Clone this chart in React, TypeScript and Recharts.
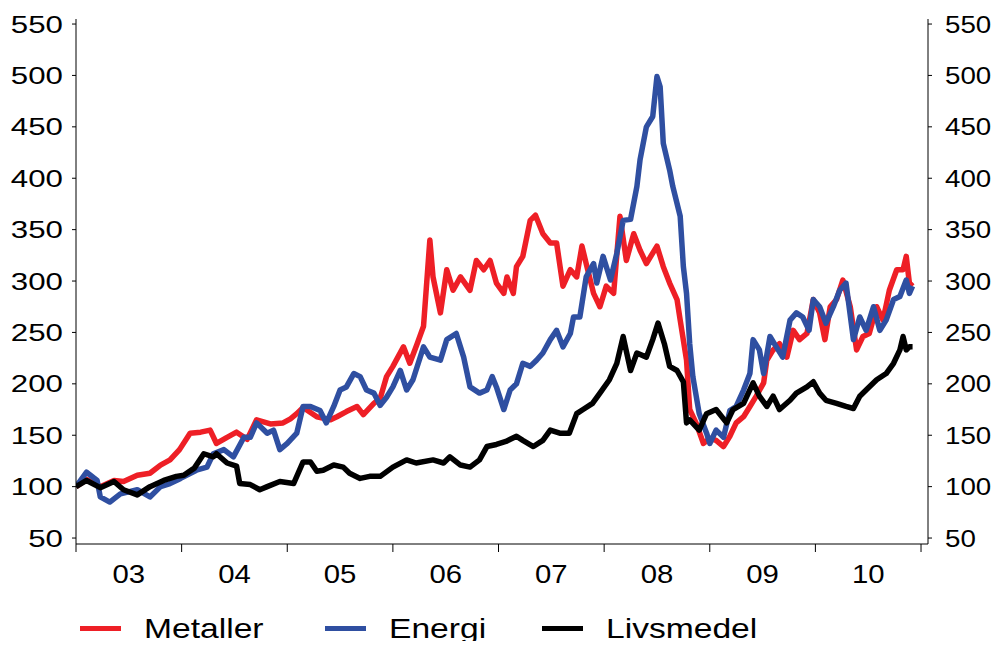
import React from "react";
import { LineChart, Line, XAxis, YAxis, Legend } from "recharts";

// ---- Data (decimal year, index value 2003 = 100) ----
const metallerDates = [
  2003.0, 2003.1, 2003.23, 2003.36, 2003.45, 2003.58, 2003.7, 2003.8, 2003.89, 2003.98,
  2004.08, 2004.18, 2004.27, 2004.33, 2004.43, 2004.52, 2004.62, 2004.71, 2004.84, 2004.96,
  2005.03, 2005.09, 2005.15, 2005.28, 2005.41, 2005.47, 2005.56, 2005.66, 2005.72, 2005.82,
  2005.88, 2005.94, 2006.0, 2006.1, 2006.16, 2006.23, 2006.29, 2006.35, 2006.38, 2006.45,
  2006.51, 2006.57, 2006.64, 2006.73, 2006.79, 2006.86, 2006.92, 2006.98, 2007.05, 2007.08,
  2007.14, 2007.17, 2007.23, 2007.3, 2007.35, 2007.42, 2007.49, 2007.55, 2007.61, 2007.68,
  2007.74, 2007.79, 2007.83, 2007.9, 2007.96, 2008.02, 2008.09, 2008.15, 2008.21, 2008.28,
  2008.34, 2008.4, 2008.5, 2008.56, 2008.62, 2008.69, 2008.72, 2008.78, 2008.81, 2008.87,
  2008.94, 2009.0, 2009.06, 2009.13, 2009.19, 2009.25, 2009.32, 2009.38, 2009.44, 2009.51,
  2009.54, 2009.6, 2009.66, 2009.73, 2009.79, 2009.85, 2009.92, 2009.98, 2010.04, 2010.09,
  2010.14, 2010.2, 2010.26, 2010.33, 2010.39, 2010.45, 2010.51, 2010.58, 2010.64, 2010.7,
  2010.77, 2010.83, 2010.86, 2010.89, 2010.92,
];
const metallerValues = [
  100, 107, 100, 106, 105, 111, 113, 121, 126, 136,
  152, 153, 155, 142, 148, 153, 146, 165, 161, 162,
  166, 171, 177, 168, 165, 168, 173, 178, 170, 181,
  186, 207, 217, 236, 220, 239, 256, 340, 304, 269,
  311, 291, 304, 291, 320, 311, 320, 298, 288, 304,
  288, 314, 324, 359, 364, 346, 337, 337, 295, 311,
  304, 334, 317, 288, 275, 295, 288, 363, 320, 346,
  330, 317, 334, 314, 298, 282, 262, 223, 175, 162,
  142, 147, 145, 139, 149, 162, 168, 178, 188, 201,
  223, 233, 239, 226, 252, 243, 249, 282, 269, 243,
  275, 282, 301, 275, 233, 246, 249, 275, 262, 291,
  311, 311, 324, 298, 295,
];

const energiDates = [
  2003.0, 2003.1, 2003.2, 2003.23, 2003.32, 2003.42, 2003.58, 2003.7, 2003.8, 2003.89,
  2003.99, 2004.14, 2004.24, 2004.3, 2004.4, 2004.49, 2004.59, 2004.65, 2004.71, 2004.81,
  2004.87, 2004.93, 2005.0, 2005.09, 2005.15, 2005.22, 2005.31, 2005.37, 2005.44, 2005.5,
  2005.56, 2005.63, 2005.69, 2005.75, 2005.82, 2005.88, 2005.94, 2006.0, 2006.07, 2006.13,
  2006.19, 2006.29, 2006.35, 2006.45, 2006.51, 2006.6, 2006.67, 2006.73, 2006.82, 2006.89,
  2006.94, 2006.98, 2007.05, 2007.11, 2007.17, 2007.23, 2007.3, 2007.36, 2007.42, 2007.49,
  2007.55, 2007.61, 2007.68, 2007.71, 2007.77, 2007.83, 2007.9, 2007.93, 2007.99, 2008.06,
  2008.12, 2008.18, 2008.25, 2008.31, 2008.34, 2008.4, 2008.46, 2008.5, 2008.53, 2008.56,
  2008.62, 2008.65, 2008.72, 2008.75, 2008.78, 2008.81, 2008.84, 2008.9, 2008.97, 2009.0,
  2009.06, 2009.13, 2009.19, 2009.25, 2009.32, 2009.38, 2009.41, 2009.47, 2009.51, 2009.57,
  2009.63, 2009.69, 2009.76, 2009.82, 2009.88, 2009.94, 2009.98, 2010.04, 2010.1, 2010.17,
  2010.23, 2010.29, 2010.36, 2010.42, 2010.48, 2010.55, 2010.61, 2010.67, 2010.74, 2010.8,
  2010.86, 2010.89, 2010.92,
];
const energiValues = [
  100, 114, 106, 90, 85, 93, 97, 90, 100, 103,
  108, 116, 119, 132, 136, 129, 148, 148, 162, 152,
  155, 136, 142, 152, 178, 178, 174, 162, 178, 194,
  197, 210, 207, 194, 191, 179, 187, 197, 213, 194,
  204, 236, 226, 223, 243, 249, 226, 197, 191, 194,
  207, 197, 175, 194, 200, 220, 217, 223, 230, 243,
  252, 236, 249, 265, 265, 304, 317, 298, 324, 301,
  327, 359, 360, 392, 418, 450, 460, 499, 489, 434,
  408, 392, 363, 314, 288, 239, 207, 171, 152, 142,
  155, 148, 174, 178, 194, 210, 243, 233, 210, 246,
  236, 226, 262, 269, 265, 252, 282, 275, 259, 275,
  291, 298, 243, 265, 252, 275, 252, 262, 282, 285,
  301, 288, 295,
];

const livsmedelDates = [
  2003.0, 2003.1, 2003.23, 2003.36, 2003.45, 2003.58, 2003.7, 2003.83, 2003.95, 2004.02,
  2004.12, 2004.21, 2004.3, 2004.33, 2004.43, 2004.52, 2004.55, 2004.65, 2004.74, 2004.81,
  2004.93, 2005.06, 2005.15, 2005.22, 2005.28, 2005.34, 2005.44, 2005.53, 2005.59, 2005.69,
  2005.78, 2005.88, 2006.0, 2006.13, 2006.22, 2006.38, 2006.48, 2006.54, 2006.64, 2006.73,
  2006.82, 2006.89, 2006.98, 2007.07, 2007.17, 2007.23, 2007.33, 2007.42, 2007.49, 2007.58,
  2007.67, 2007.74, 2007.8, 2007.89, 2007.96, 2008.05, 2008.12, 2008.18, 2008.25, 2008.31,
  2008.4, 2008.46, 2008.51, 2008.57, 2008.62, 2008.69, 2008.75, 2008.78, 2008.81, 2008.9,
  2008.97, 2009.06, 2009.16, 2009.22, 2009.32, 2009.41, 2009.47, 2009.54, 2009.6, 2009.66,
  2009.76, 2009.82, 2009.92, 2009.98, 2010.04, 2010.1, 2010.2, 2010.29, 2010.36, 2010.42,
  2010.48, 2010.58, 2010.67, 2010.74, 2010.8, 2010.83, 2010.86, 2010.89, 2010.92,
];
const livsmedelValues = [
  100, 106, 99, 105, 97, 92, 100, 106, 110, 111,
  118, 132, 129, 132, 123, 120, 103, 102, 97, 100,
  105, 103, 124, 124, 115, 116, 121, 119, 113, 108,
  110, 110, 119, 126, 123, 126, 123, 129, 121, 119,
  126, 139, 141, 144, 149, 145, 139, 145, 155, 152,
  152, 171, 175, 181, 191, 204, 220, 246, 213, 230,
  226, 243, 259, 239, 217, 213, 202, 162, 165, 155,
  171, 175, 162, 175, 181, 201, 188, 178, 188, 175,
  184, 191, 197, 202, 191, 184, 181, 178, 176, 188,
  194, 204, 210, 220, 233, 246, 233, 236, 236,
];

const seriesNames = ["Metaller", "Energi", "Livsmedel"];
const seriesColors = ["#EE1F26", "#2F4FA1", "#000000"];

const yTicks = [50, 100, 150, 200, 250, 300, 350, 400, 450, 500, 550];
const yearBoundaries = [2003, 2004, 2005, 2006, 2007, 2008, 2009, 2010, 2011];
const yearMidpoints = [2003.5, 2004.5, 2005.5, 2006.5, 2007.5, 2008.5, 2009.5, 2010.5];
const yearLabels = ["03", "04", "05", "06", "07", "08", "09", "10"];

const xTicks = [...yearBoundaries, ...yearMidpoints].sort((a, b) => a - b);

const X_DOMAIN: [number, number] = [2003, 2011.066];
const Y_DOMAIN: [number, number] = [44.2, 554.9];

const FONT = '"Liberation Sans", Arial, Helvetica, sans-serif';

const toPoints = (dates: number[], values: number[]) =>
  dates.map((t, i) => ({ t, v: values[i] }));

const seriesData = [
  toPoints(metallerDates, metallerValues),
  toPoints(energiDates, energiValues),
  toPoints(livsmedelDates, livsmedelValues),
];

const YTick = (props: any) => {
  const { x, y, payload, anchor, sx } = props;
  return (
    <g transform={`translate(${x},${y}) scale(${sx},1)`}>
      <text x={0} y={0} dy="0.36em" textAnchor={anchor} fontSize={23.5} fontFamily={FONT} fill="#000">
        {payload.value}
      </text>
    </g>
  );
};

// Year boundaries get a tick mark, mid-year positions get the year label.
const XTick = (props: any) => {
  const { x, y, payload } = props;
  const labelIndex = yearMidpoints.indexOf(payload.value);
  if (labelIndex < 0) {
    return <line x1={x} y1={y} x2={x} y2={y + 8} stroke="#000" strokeWidth={1} />;
  }
  return (
    <g transform={`translate(${x},${y + 39}) scale(1.15,1)`}>
      <text x={0} y={0} textAnchor="middle" fontSize={25.5} fontFamily={FONT} fill="#000">
        {yearLabels[labelIndex]}
      </text>
    </g>
  );
};

const legendOffsets = [72, 317, 534];

const LegendContent = () => (
  <div style={{ position: "relative", height: 30, width: "100%" }}>
    {seriesNames.map((name, i) => (
      <div
        key={name}
        style={{
          position: "absolute",
          left: legendOffsets[i],
          top: -6,
          height: 30,
          display: "flex",
          alignItems: "center",
          whiteSpace: "nowrap",
        }}
      >
        <span style={{ display: "inline-block", width: 41, height: 5, background: seriesColors[i] }} />
        <span
          style={{
            display: "inline-block",
            position: "relative",
            top: 1,
            height: 24,
            marginLeft: 23,
            fontFamily: FONT,
            fontSize: 28,
            lineHeight: "24px",
            color: "#000",
            transform: "scaleX(1.2)",
            transformOrigin: "left center",
          }}
        >
          {name}
        </span>
      </div>
    ))}
  </div>
);

export default function App() {
  return (
    <div style={{ height: 641, marginBottom: -8 }}>
      <LineChart width={983} height={641} margin={{ top: 11, right: 0, bottom: 0, left: 0 }}>
        <XAxis
          xAxisId="t"
          dataKey="t"
          type="number"
          domain={X_DOMAIN}
          ticks={xTicks}
          allowDataOverflow
          height={75}
          interval={0}
          tickSize={0}
          tickMargin={0}
          tickLine={false}
          axisLine={{ stroke: "#000", strokeWidth: 1 }}
          tick={<XTick />}
        />
        <YAxis
          yAxisId="l"
          orientation="left"
          type="number"
          domain={Y_DOMAIN}
          ticks={yTicks}
          allowDataOverflow
          width={68}
          tickSize={4}
          tickMargin={9}
          interval={0}
          axisLine={{ stroke: "#000", strokeWidth: 1 }}
          tickLine={{ stroke: "#000", strokeWidth: 1 }}
          tick={<YTick anchor="end" sx={1.33} />}
        />
        <YAxis
          yAxisId="r"
          orientation="right"
          type="number"
          domain={Y_DOMAIN}
          ticks={yTicks}
          allowDataOverflow
          width={63}
          tickSize={4}
          tickMargin={13}
          interval={0}
          axisLine={{ stroke: "#000", strokeWidth: 1 }}
          tickLine={{ stroke: "#000", strokeWidth: 1 }}
          tick={<YTick anchor="start" sx={1.18} />}
        />
        {seriesNames.map((name, i) => (
          <Line
            key={name}
            xAxisId="t"
            yAxisId="l"
            data={seriesData[i]}
            dataKey="v"
            name={name}
            type="linear"
            stroke={seriesColors[i]}
            strokeWidth={5.5}
            strokeLinejoin="round"
            dot={false}
            activeDot={false}
            isAnimationActive={false}
          />
        ))}
        <Legend verticalAlign="bottom" align="left" content={<LegendContent />} />
      </LineChart>
    </div>
  );
}
